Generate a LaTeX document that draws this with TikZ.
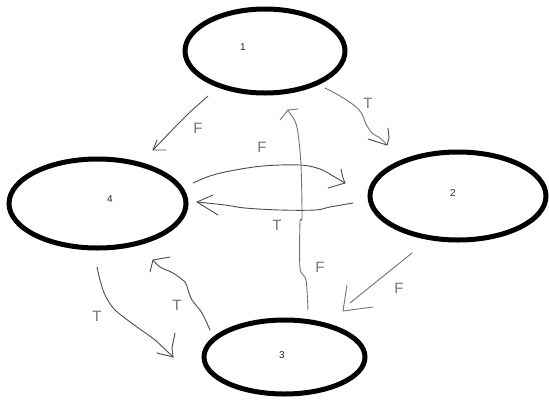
\documentclass[tikz,border=0pt]{standalone}
\usepackage{fontspec}
\setmainfont{Liberation Sans}
\usetikzlibrary{shapes.geometric}
\begin{document}
\begin{tikzpicture}[x=1pt,y=-1pt,
  state/.style={ellipse,draw=black,line width=5pt,inner sep=0pt},
  num/.style={font=\fontsize{10}{10}\selectfont,text=black!85,inner sep=0pt},
  hand/.style={draw=black!70,line width=0.9pt,line cap=round,line join=round},
  handlt/.style={draw=black!55,line width=0.9pt,line cap=round,line join=round},
  lbl/.style={font=\fontsize{15}{15}\selectfont,text=black!55,inner sep=0pt}]
\useasboundingbox (0,0) rectangle (549,400);
% states
\node[state,minimum width=160pt,minimum height=84pt] (n1) at (265,51) {};
\node[state,minimum width=177pt,minimum height=89pt] (n4) at (97.5,203.5) {};
\node[state,minimum width=176pt,minimum height=88pt] (n2) at (458,196) {};
\node[state,minimum width=161pt,minimum height=74pt] (n3) at (284.5,357) {};
\node[num] (t1) at (243,47) {1};
\node[num] (t4) at (110,199) {4};
\node[num] (t2) at (453,193) {2};
\node[num] (t3) at (282,355) {3};
% free ends of the hand-drawn connectors
\coordinate (a14s) at (208,96);  \coordinate (a14t) at (153,150);
\coordinate (a12s) at (325,88);  \coordinate (a12t) at (387,145);
\coordinate (a42s) at (193,183); \coordinate (a42t) at (345,183);
\coordinate (a24s) at (353,203); \coordinate (a24t) at (197,202);
\coordinate (a31s) at (308,310); \coordinate (a31t) at (288,110);
\coordinate (a23s) at (412,253); \coordinate (a23e) at (350,303); \coordinate (a23t) at (343,311);
\coordinate (a34s) at (210,330); \coordinate (a34t) at (153,260);
\coordinate (a43s) at (97,267);  \coordinate (a43t) at (173,357);
% 1 -> 4 (F)
\draw[hand] (a14s) -- (190,112) -- (175,127) -- (a14t);
\draw[hand] (157,140) -- (a14t) -- (166,150);
\node[lbl] (f14) at (198,128) {F};
% 1 -> 2 (T)
\draw[handlt] plot[smooth,tension=0.5] coordinates {(325,88) (340,96) (355,106) (362,114) (366,124) (372,133) (380,138) (387,145)};
\draw[hand] (388,128) -- (389,138) -- (a12t) -- (368,139);
\node[lbl] (t12) at (368,103) {T};
% 4 -> 2 (F)
\draw[hand] plot[smooth,tension=0.6] coordinates {(193,183) (210,176) (230,171) (263,166) (300,165) (320,169) (333,176) (345,183)};
\draw[hand] (341,169) -- (343,178) -- (a42t) -- (328,188);
\node[lbl] (f42) at (262,147) {F};
% 2 -> 4 (T)
\draw[hand] plot[smooth,tension=0.6] coordinates {(353,203) (330,207) (315,210) (280,210) (245,208) (225,205) (197,202)};
\draw[hand] (213,195) -- (a24t) -- (218,215);
\node[lbl] (t24) at (277,225) {T};
% 3 -> 1 (F)
\draw[handlt] plot[smooth,tension=0.5] coordinates {(308,310) (306,280) (300,268) (300,222) (302,217) (301,165) (298,133) (295,121) (291,115) (288,110)};
\draw[handlt] (280,120) -- (a31t) -- (298,109);
\node[lbl] (f31) at (320,267) {F};
% 2 -> 3 (F)
\draw[handlt] (a23s) -- (a23e);
\draw[handlt] (347,285) -- (345,298) -- (a23t) -- (373,307);
\node[lbl] (f23) at (399,288) {F};
% 3 -> 4 (T)
\draw[hand] plot[smooth,tension=0.5] coordinates {(210,330) (202,313) (192,300) (188,290) (185,282) (173,273) (160,267) (153,260)};
\draw[hand] (170,257) -- (a34t) -- (150,272);
\node[lbl] (t34) at (177,305) {T};
% 4 -> 3 (T)
\draw[hand] plot[smooth,tension=0.5] coordinates {(97,267) (100,280) (105,295) (115,310) (137,327) (155,340) (173,357)};
\draw[hand] (175,333) -- (172,348) -- (a43t) -- (157,353);
\node[lbl] (t43) at (97,316) {T};
\end{tikzpicture}
\end{document}
